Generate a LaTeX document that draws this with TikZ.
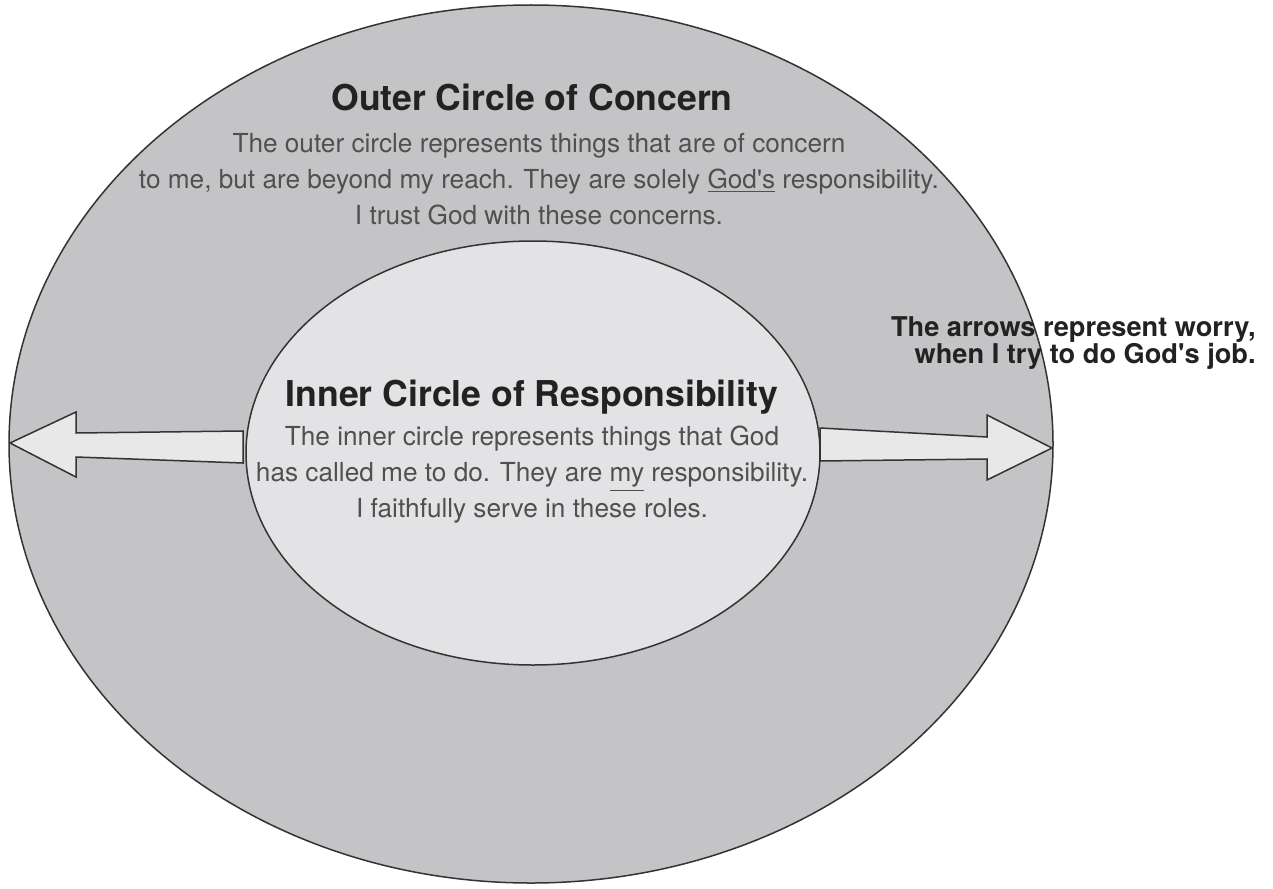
\documentclass[tikz,border=0pt]{standalone}
\usepackage{fontspec}
\setmainfont{TeX Gyre Heros}
\usetikzlibrary{shapes,arrows}

\definecolor{outergray}{HTML}{C4C4C6}
\definecolor{innergray}{HTML}{E3E3E5}
\definecolor{arrowgray}{HTML}{E8E8E8}
\definecolor{linegray}{HTML}{333333}
\definecolor{titlegray}{HTML}{222222}
\definecolor{bodygray}{HTML}{505050}

\begin{document}
\begin{tikzpicture}[x=0.5pt, y=-0.5pt]
	\tikzstyle{circ} = [ellipse, draw=linegray, line width=0.75pt, inner sep=0]
	\tikzstyle{title} = [inner sep=0, text=titlegray, font=\fontsize{17.8}{20}\selectfont\bfseries]
	\tikzstyle{body} = [inner sep=0, align=center, text=bodygray, font=\fontsize{13.1}{18}\selectfont]
	\tikzstyle{note} = [inner sep=0, align=right, text=titlegray, font=\fontsize{13.6}{13.6}\selectfont\bfseries]
	\tikzstyle{fatarrow} = [draw=linegray, fill=arrowgray, line width=0.75pt, line join=miter]
	
	\useasboundingbox (0,0) rectangle (1273,888);
	
	\node[circ, fill=outergray, minimum width=522pt, minimum height=439pt] (outer) at (531,444) {};
	\node[circ, fill=innergray, minimum width=287pt, minimum height=212pt] (inner) at (533,453) {};
	
	% worry arrows, from the inner rim out to the outer rim
	\coordinate (lefttail) at (243,447);
	\coordinate (lefttip) at (10,443);
	\coordinate (righttail) at (820,445);
	\coordinate (righttip) at (1052,448);
	\draw[fatarrow] (lefttail) ++(0,-16) -- (76,433) -- (76,412) -- (lefttip)
		-- (76,477) -- (76,457) -- (243,463) -- cycle;
	\draw[fatarrow] (righttail) ++(0,-17) -- (987,437) -- (987,415) -- (righttip)
		-- (987,480) -- (987,459) -- (820,461) -- cycle;
	
	\node[title, anchor=base] (outertitle) at (532,111) {Outer Circle of Concern};
	\node[body] (outertext) at (539,179) {The outer circle represents things that are of concern\\
		to me, but are beyond my reach. They are solely \underline{God\textquotesingle s} responsibility.\\
		I trust God with these concerns.};
	
	\node[title, anchor=base] (innertitle) at (532,406) {Inner Circle of Responsibility};
	\node[body] (innertext) at (532,475) {The inner circle represents things that God\\
		has called me to do. They are \underline{my} responsibility.\\
		I faithfully serve in these roles.};
	
	\node[note, anchor=east] (worry) at (1256,343) {The arrows represent worry,\\
		when I try to do God\textquotesingle s job.};
	
\end{tikzpicture}
\end{document}
